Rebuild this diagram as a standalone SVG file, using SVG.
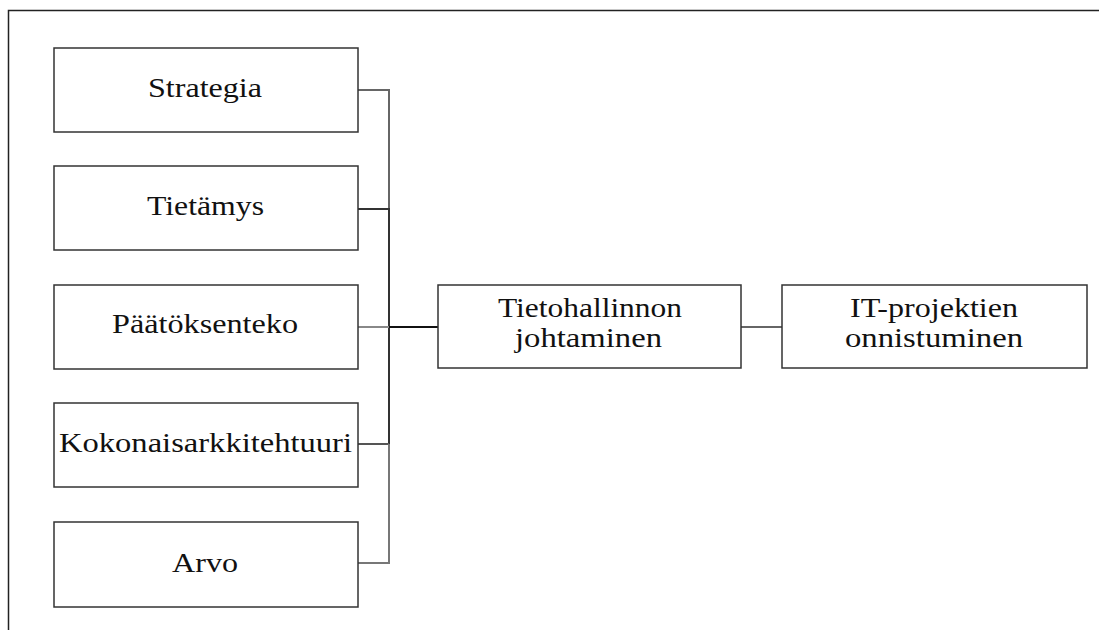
<svg xmlns="http://www.w3.org/2000/svg" width="1099" height="630" viewBox="0 0 1099 630">
<style>
.box{fill:#fff;stroke:#333;stroke-width:1.5}
.t{font-family:'Liberation Serif','Times New Roman','DejaVu Serif',Times,serif;font-size:28px;fill:#111}
.c{fill:none;stroke-width:2}
</style>
<rect width="1099" height="630" fill="#fff"/>
<path d="M8.5 630 V10.5 H1099" fill="none" stroke="#222" stroke-width="1.5"/>
<g id="connectors">
<path class="c" stroke="#666" d="M358 90 H389 V209"/>
<path class="c" stroke="#333" d="M358 209 H389 V444"/>
<path class="c" stroke="#888" d="M358 327 H389"/>
<path class="c" stroke="#555" d="M358 444 H389"/>
<path class="c" stroke="#777" d="M389 444 V563 H358"/>
<path class="c" stroke="#111" d="M389 327 H438"/>
<path class="c" stroke="#666" d="M741 327 H782"/>
</g>
<g id="strategia"><rect class="box" x="54" y="48" width="304" height="84"/><text class="t" x="148" y="97" textLength="114" lengthAdjust="spacingAndGlyphs">Strategia</text></g>
<g id="tietamys"><rect class="box" x="54" y="166" width="304" height="84"/><text class="t" x="147" y="215" textLength="117" lengthAdjust="spacingAndGlyphs">Tietämys</text></g>
<g id="paatoksenteko"><rect class="box" x="54" y="285" width="304" height="84"/><text class="t" x="112" y="333" textLength="186" lengthAdjust="spacingAndGlyphs">Päätöksenteko</text></g>
<g id="kokonaisarkkitehtuuri"><rect class="box" x="54" y="403" width="304" height="84"/><text class="t" x="59" y="452" textLength="293" lengthAdjust="spacingAndGlyphs">Kokonaisarkkitehtuuri</text></g>
<g id="arvo"><rect class="box" x="54" y="522" width="304" height="85"/><text class="t" x="172" y="572" textLength="66" lengthAdjust="spacingAndGlyphs">Arvo</text></g>
<g id="tietohallinto"><rect class="box" x="438" y="285" width="303" height="83"/><text class="t" x="498" y="317" textLength="184" lengthAdjust="spacingAndGlyphs">Tietohallinnon</text><text class="t" x="515" y="347" textLength="147" lengthAdjust="spacingAndGlyphs">johtaminen</text></g>
<g id="itprojektit"><rect class="box" x="782" y="285" width="305" height="83"/><text class="t" x="850" y="317" textLength="168" lengthAdjust="spacingAndGlyphs">IT-projektien</text><text class="t" x="845" y="347" textLength="178" lengthAdjust="spacingAndGlyphs">onnistuminen</text></g>
</svg>
